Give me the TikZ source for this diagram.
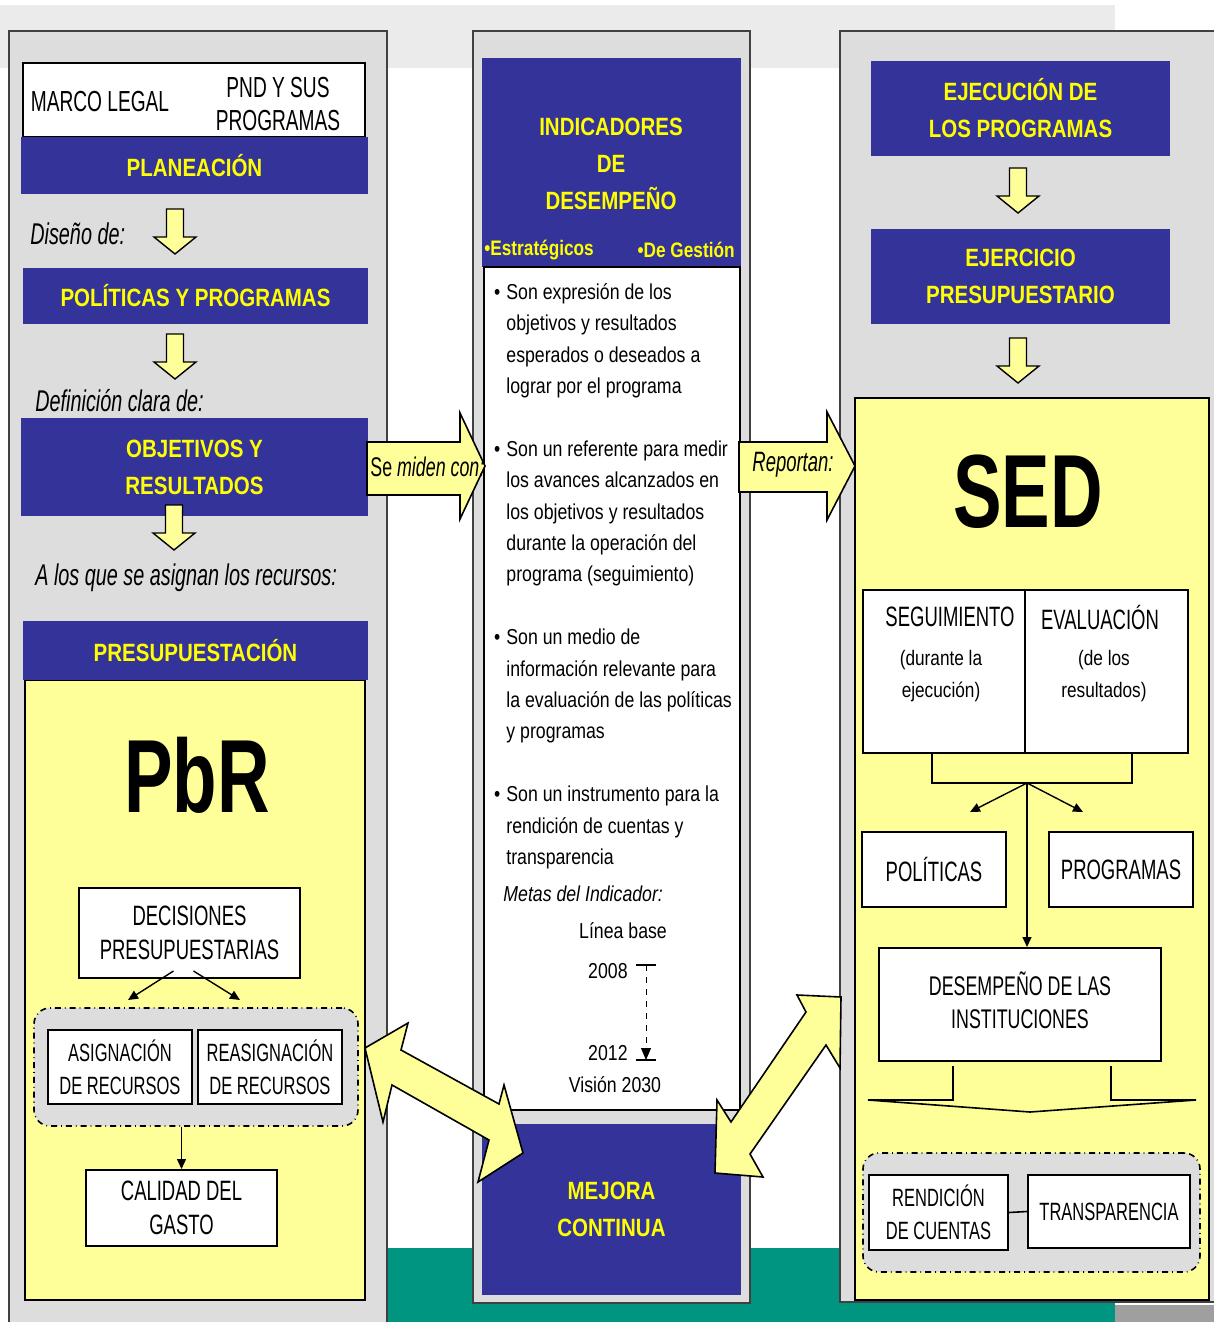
\documentclass[tikz,border=0pt]{standalone}
\usepackage{fontspec}
\setmainfont{Liberation Sans}[FakeStretch=0.82]
\newfontfamily\estrecha{Liberation Sans}[FakeStretch=0.66]
\newfontfamily\grande{Liberation Sans}[FakeStretch=0.7]
\usetikzlibrary{calc,arrows.meta}

\definecolor{azul}{HTML}{333399}
\definecolor{amarillo}{HTML}{FFFF99}
\definecolor{letra}{HTML}{FFFF00}
\definecolor{gris}{HTML}{DDDDDD}
\definecolor{grisclaro}{HTML}{EBEBEB}
\definecolor{verde}{HTML}{009581}
\definecolor{borde}{HTML}{404040}

\tikzset{
  panel/.style={draw=borde, line width=1pt, fill=gris},
  azulbox/.style={fill=azul, inner sep=0pt, text=letra, align=center,
    font=\bfseries\fontsize{12.5}{18.5}\selectfont},
  blanca/.style={draw, fill=white, line width=1pt, inner sep=0pt, align=center,
    font=\estrecha\fontsize{14}{17}\selectfont},
  chica/.style={font=\estrecha\fontsize{12.5}{16.5}\selectfont},
  amarilla/.style={draw, fill=amarillo, line width=1pt},
  grupo/.style={draw, fill=gris, rounded corners=8pt, dash dot, line width=0.8pt},
  flechita/.style={-{Triangle[length=5pt,width=4.5pt]}, line width=0.7pt},
  bloque/.style={draw, fill=amarillo, line width=0.8pt},
  nota/.style={font=\estrecha\itshape\fontsize{15}{17}\selectfont, anchor=west, inner sep=0pt},
  texto/.style={font=\fontsize{10.8}{15.7}\selectfont, inner sep=0pt},
  flecha/.pic={
    \draw[fill=amarillo, line width=0.7pt] (-8.5,0) -- (8.5,0) -- (8.5,28) -- (21,28)
      -- (0,45) -- (-21,28) -- (-8.5,28) -- cycle;
  }
}

\begin{document}
\begin{tikzpicture}[x=0.5pt,y=-0.5pt]
\useasboundingbox (0,0) rectangle (1214,1322);

% fondo
\fill[grisclaro] (0,5) rectangle (1115,68);
\fill[verde] (385,1248) rectangle (1115,1322);
\fill[gray!75] (1115,1305) rectangle (1214,1322);

% paneles
\draw[panel] (9,31) rectangle (387,1340);
\draw[panel] (473,31) rectangle (750,1303);
\draw[panel] (840,31) rectangle (1230,1302);

% columna izquierda
\node[blanca, minimum width=171pt, minimum height=37pt] (marco) at (194,100) {};
\node[font=\estrecha\fontsize{14.5}{16.5}\selectfont] (legal) at (100,102) {MARCO LEGAL};
\node[font=\estrecha\fontsize{14.5}{16.5}\selectfont, align=center] (pnd) at (278,104) {PND Y SUS\\PROGRAMAS};
\node[azulbox, minimum width=173.5pt, minimum height=28.5pt] (plan) at (194.5,165.5) {PLANEACIÓN};
\node[nota] (diseno) at (30,234) {Diseño de:};
\pic (f1) at (175,209) {flecha};
\node[azulbox, minimum width=172.5pt, minimum height=28pt] (polprog) at (195.5,296) {POLÍTICAS Y PROGRAMAS};
\pic (f2) at (175,334) {flecha};
\node[nota] (defin) at (35,401) {Definición clara de:};
\node[azulbox, minimum width=173.5pt, minimum height=49pt] (objres) at (194.5,467) {OBJETIVOS Y\\RESULTADOS};
\pic (f3) at (174,505) {flecha};
\node[nota] (asignan) at (35,578) {A los que se asignan los recursos:};
\draw[amarilla] (25,680) rectangle (365,1300);
\node[azulbox, minimum width=172.5pt, minimum height=29.5pt] (presup) at (195.5,650.5) {PRESUPUESTACIÓN};
\node[font=\grande\bfseries\fontsize{52}{52}\selectfont] (pbr) at (197,775) {PbR};
\node[blanca, minimum width=110.5pt, minimum height=45pt] (decis) at (189.5,933) {DECISIONES\\PRESUPUESTARIAS};
\node[grupo, minimum width=162pt, minimum height=59pt] (recursos) at (196,1067) {};
\node[blanca, chica, minimum width=72pt, minimum height=37pt] (asig) at (120,1067) {ASIGNACIÓN\\DE RECURSOS};
\node[blanca, chica, minimum width=72pt, minimum height=37pt] (reasig) at (270,1067) {REASIGNACIÓN\\DE RECURSOS};
\node[blanca, minimum width=95.5pt, minimum height=38pt] (calidad) at (181.5,1208) {CALIDAD DEL\\GASTO};
\draw[flechita] ($(decis.south)+(-16,-8)$) -- ($(asig.north)+(8,-29)$);
\draw[flechita] ($(decis.south)+(4,-8)$) -- ($(reasig.north)+(-30,-29)$);
\draw[flechita] (calidad.north |- recursos.south) -- (calidad.north);

% columna central
\node[azulbox, minimum width=129.5pt, minimum height=104.5pt] (indic) at (611.5,162.5) {};
\node[azulbox, fill=none] (indtit) at (611,164) {INDICADORES\\DE\\DESEMPEÑO};
\node[font=\bfseries\fontsize{10.5}{12}\selectfont, text=letra, anchor=west, inner sep=0pt] (estrat) at (484,250) {\textbullet Estratégicos};
\node[font=\bfseries\fontsize{10.5}{12}\selectfont, text=letra, anchor=east, inner sep=0pt] (gestion) at (735,250) {\textbullet De Gestión};
\node[draw, fill=white, line width=1pt, minimum width=128pt, minimum height=421.5pt] (hoja) at (612,688.5) {};
\node[texto, anchor=north west, align=left] (lista) at (506,283) {%
\llap{\textbullet\hspace{3pt}}Son expresión de los\\
objetivos y resultados\\
esperados o deseados a\\
lograr por el programa\\[15.7pt]
\llap{\textbullet\hspace{3pt}}Son un referente para medir\\
los avances alcanzados en\\
los objetivos y resultados\\
durante la operación del\\
programa (seguimiento)\\[15.7pt]
\llap{\textbullet\hspace{3pt}}Son un medio de\\
información relevante para\\
la evaluación de las políticas\\
y programas\\[15.7pt]
\llap{\textbullet\hspace{3pt}}Son un instrumento para la\\
rendición de cuentas y\\
transparencia};
\node[texto, font=\itshape\fontsize{10.8}{12}\selectfont, anchor=west] (metas) at (503,894) {Metas del Indicador:};
\node[texto] (linea) at (623,931) {Línea base};
\node[texto, anchor=east] (y2008) at (628,971) {2008};
\node[texto, anchor=east] (y2012) at (628,1053) {2012};
\node[texto] (vision) at (615,1085) {Visión 2030};
\coordinate (base) at (646,965);
\coordinate (meta) at (646,1060);
\draw[dashed, -{Triangle[length=6pt,width=5pt]}] (base) -- (meta);
\draw[line width=0.8pt] (base) ++(-10,0) -- ++(20,0);
\draw[line width=0.8pt] (meta) ++(-10,0) -- ++(20,0);
\node[azulbox, minimum width=129.5pt, minimum height=85.5pt] (mejora) at (611.5,1209.5) {MEJORA\\CONTINUA};

% columna derecha
\node[azulbox, minimum width=149.5pt, minimum height=47.5pt] (ejec) at (1020.5,108.5) {EJECUCIÓN DE\\LOS PROGRAMAS};
\pic (f4) at (1018,168) {flecha};
\node[azulbox, minimum width=149.5pt, minimum height=47.5pt] (ejer) at (1020.5,276.5) {EJERCICIO\\PRESUPUESTARIO};
\pic (f5) at (1018,338) {flecha};
\draw[amarilla] (855,398) rectangle (1209,1300);
\node[font=\grande\bfseries\fontsize{52}{52}\selectfont] (sed) at (1028,492) {SED};
\node[blanca, minimum width=81pt, minimum height=81.5pt] (seg) at (944,671.5) {};
\node[blanca, minimum width=81.5pt, minimum height=81.5pt] (eval) at (1106.5,671.5) {};
\node[font=\estrecha\fontsize{14}{16}\selectfont] (segtit) at (950,617) {SEGUIMIENTO};
\node[font=\fontsize{10.5}{16}\selectfont, align=center] (segsub) at (941,676) {(durante la\\ejecución)};
\node[font=\estrecha\fontsize{14}{16}\selectfont] (evaltit) at (1100,617) {EVALUACIÓN};
\node[font=\fontsize{10.5}{16}\selectfont, align=center] (evalsub) at (1104,676) {(de los\\resultados)};
\coordinate (llave) at (1027,783);
\coordinate (hpol) at (970,812);
\coordinate (hprog) at (1083,812);
\draw[line width=0.8pt] (932,753) -- (932,783) -- (1132,783) -- (1132,753);
\node[blanca, minimum width=72pt, minimum height=37.5pt] (pol) at (934,869.5) {POLÍTICAS};
\node[blanca, minimum width=72pt, minimum height=37.5pt] (prog) at (1121,869.5) {PROGRAMAS};
\node[blanca, minimum width=141pt, minimum height=56.5pt] (desem) at (1020,1004.5) {};
\node[font=\estrecha\fontsize{13.5}{16.5}\selectfont, align=center] (desemtxt) at (1020,1000) {DESEMPEÑO DE LAS\\INSTITUCIONES};
\draw[flechita] (llave) -- (hpol);
\draw[flechita] (llave) -- (hprog);
\draw[flechita] (llave) -- (llave |- desem.north);
\draw[fill=amarillo, line width=0.8pt] (953,1066) -- (953,1100) -- (868,1100) -- (1030,1112)
  -- (1196,1100) -- (1111,1100) -- (1111,1066);
\node[grupo, minimum width=168.5pt, minimum height=59.5pt] (cuentas) at (1031.5,1212.5) {};
\node[blanca, chica, minimum width=69.5pt, minimum height=37.5pt] (rend) at (938.5,1212.5) {RENDICIÓN\\DE CUENTAS};
\node[blanca, chica, minimum width=81pt, minimum height=36.5pt] (transp) at (1109,1211.5) {TRANSPARENCIA};
\draw[line width=0.8pt] (rend.east) -- (transp.west);

% flechas grandes
\draw[bloque] (367,442) -- (460,442) -- (460,413) -- (485,466) -- (460,519) -- (460,495) -- (367,495) -- cycle;
\node[font=\estrecha\fontsize{13.5}{15}\selectfont, anchor=west, inner sep=0pt] (miden) at (370,467) {Se \textit{miden con:}};
\draw[bloque] (739,442) -- (827,442) -- (827,412) -- (855,466) -- (827,520) -- (827,492) -- (739,492) -- cycle;
\node[font=\estrecha\itshape\fontsize{14}{15}\selectfont, anchor=west, inner sep=0pt] (reportan) at (752,465) {Reportan:};
\draw[bloque] (365,1048) -- (408,1023) -- (401,1050) -- (499,1104) -- (504,1085) -- (523,1153)
  -- (478,1182) -- (489,1140) -- (392,1085) -- (383,1122) -- cycle;
\draw[bloque] (715,1173) -- (717,1100) -- (731,1122) -- (806,1012) -- (797,995) -- (841,997)
  -- (840,1068) -- (826,1045) -- (750,1154) -- (763,1177) -- cycle;
\end{tikzpicture}
\end{document}
